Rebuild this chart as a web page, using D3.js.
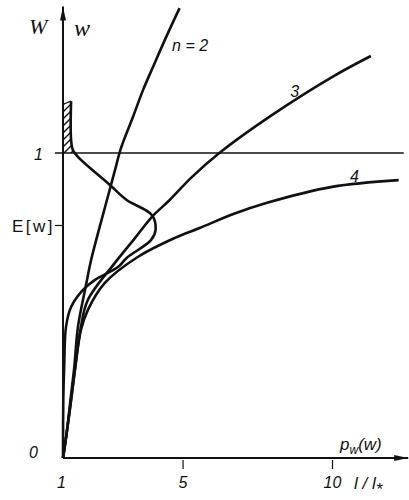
<!DOCTYPE html>
<html>
<head>
<meta charset="utf-8">
<script src="https://cdn.jsdelivr.net/npm/d3@7"></script>
<style>
  body { margin: 0; background: #fff; }
  text { font-family: "Liberation Sans", sans-serif; font-style: italic; fill: #111; }
</style>
</head>
<body>
<svg id="chart" width="409" height="500"></svg>
<script>
// w as a function of l/l* for n = 2, 3, 4
var n2L = [1, 1.12, 1.25, 1.38, 1.5, 1.77, 1.94, 2.47, 2.74, 2.94, 3.34, 3.68, 4.01, 4.45, 4.9];
var n2W = [0, 0.08, 0.19, 0.3, 0.43, 0.567, 0.649, 0.846, 0.944, 1.016, 1.118, 1.207, 1.282, 1.38, 1.475];

var n3L = [1, 1.12, 1.27, 1.4, 1.6, 1.83, 2.73, 3.4, 3.97, 4.57, 5.3, 6.23, 8.0, 10, 11.3];
var n3W = [0, 0.08, 0.19, 0.29, 0.43, 0.518, 0.639, 0.72, 0.79, 0.846, 0.92, 1.0, 1.125, 1.249, 1.318];

var n4L = [1, 1.12, 1.27, 1.4, 1.6, 1.83, 2.4, 3.5, 4.73, 5.57, 6.7, 7.8, 10, 12.23];
var n4W = [0, 0.08, 0.19, 0.29, 0.42, 0.485, 0.574, 0.659, 0.721, 0.754, 0.8, 0.836, 0.889, 0.911];

// density p_w(w), drawn sideways (horizontal = density, vertical = w)
var densP = [1.27, 1.27, 1.33, 1.5, 2.57, 3.13, 3.97, 4.1, 3.95, 3.13, 2.84, 2.07, 1.67, 1.27, 1.1, 1.04, 1.01, 1.0];
var densW = [1.17, 1.043, 1.01, 0.987, 0.895, 0.846, 0.797, 0.75, 0.715, 0.656, 0.626, 0.584, 0.551, 0.495, 0.43, 0.3, 0.19, 0];

var xTicks = [1, 5, 10];
var yTicks = [0, 0.764, 1];
var yTickLabels = ["0", "E[w]", "1"];
var curveLabels = [
  { text: "n = 2", l: 4.65, w: 1.335 },
  { text: "3", l: 8.6, w: 1.185 },
  { text: "4", l: 10.6, w: 0.905 }
];

var xMax = 12.55, wMax = 1.48, hatchTop = 1.16;
var oneLine = [0.73, 12.4];

var svg = d3.select('#chart');
var x = d3.scaleLinear().domain([1, 10]).range([63, 332]);
var y = d3.scaleLinear().domain([0, 1]).range([458, 153]);

var defs = svg.append('defs');
defs.append('marker')
    .attr('id', 'arrow')
    .attr('markerUnits', 'userSpaceOnUse')
    .attr('viewBox', '0 0 14 8')
    .attr('refX', 14).attr('refY', 4)
    .attr('markerWidth', 14).attr('markerHeight', 8)
    .attr('orient', 'auto')
    .append('path').attr('d', 'M0,1 L14,4 L0,7 Z').attr('fill', '#111');

var pat = defs.append('pattern')
    .attr('id', 'hatch')
    .attr('patternUnits', 'userSpaceOnUse')
    .attr('width', 7).attr('height', 7);
pat.append('path')
    .attr('d', 'M-1,1 L1,-1 M0,7 L7,0 M6,8 L8,6')
    .attr('stroke', '#111').attr('stroke-width', 1.4);

defs.append('clipPath').attr('id', 'aboveOne')
  .append('rect')
    .attr('x', 0).attr('y', 0)
    .attr('width', 409).attr('height', y(1));

var lineD = d3.line()
    .x(function (d) { return x(d[0]); })
    .y(function (d) { return y(d[1]); })
    .curve(d3.curveCatmullRom);

// hatched tail of the density above w = 1
var densPts = d3.zip(densP, densW);
svg.append('path')
    .attr('d', lineD(densPts) + 'L' + x(1) + ',' + y(hatchTop) + 'Z')
    .attr('fill', 'url(#hatch)')
    .attr('clip-path', 'url(#aboveOne)');
svg.append('line')
    .attr('x1', x(1)).attr('y1', y(hatchTop))
    .attr('x2', x(densP[0])).attr('y2', y(densW[0]))
    .attr('stroke', '#111').attr('stroke-width', 1.2);

// axes
svg.append('line')
    .attr('x1', x(1)).attr('y1', y(0))
    .attr('x2', x(xMax)).attr('y2', y(0))
    .attr('stroke', '#111').attr('stroke-width', 2)
    .attr('marker-end', 'url(#arrow)');
svg.append('line')
    .attr('x1', x(1)).attr('y1', y(0))
    .attr('x2', x(1)).attr('y2', y(wMax))
    .attr('stroke', '#111').attr('stroke-width', 2)
    .attr('marker-end', 'url(#arrow)');

var xAxis = svg.append('g')
    .attr('transform', 'translate(0,' + y(0) + ')')
    .call(d3.axisBottom(x).tickValues(xTicks).tickSize(11).tickPadding(8).tickSizeOuter(0));
xAxis.select('.domain').remove();
xAxis.selectAll('.tick line')
    .attr('stroke', '#111').attr('stroke-width', 1.2)
    .attr('y1', 2)
    .style('display', function (d) { return d === 1 ? 'none' : null; });
xAxis.selectAll('.tick text')
    .attr('font-size', 16).attr('fill', '#111')
    .attr('font-family', null)
    .attr('dx', function (d) { return d === 1 ? -2 : 0; });

var yAxis = svg.append('g')
    .attr('transform', 'translate(' + x(1) + ',0)')
    .call(d3.axisLeft(y).tickValues(yTicks).tickSize(8).tickPadding(2).tickSizeOuter(0)
      .tickFormat(function (d, i) { return yTickLabels[i]; }));
yAxis.select('.domain').remove();
yAxis.selectAll('.tick line')
    .attr('stroke', '#111').attr('stroke-width', 1.2)
    .style('display', function (d) { return d === 0.764 ? null : 'none'; });
yAxis.selectAll('.tick text')
    .attr('font-family', null)
    .attr('font-size', function (d) { return d === 0.764 ? 17 : 16; })
    .attr('fill', '#111')
    .style('font-style', function (d) { return d === 0.764 ? 'normal' : 'italic'; })
    .style('letter-spacing', function (d) { return d === 0.764 ? '2.5px' : null; })
    .attr('x', function (d) { return d === 0 ? -25 : (d === 1 ? -20 : -8); })
    .attr('dy', function (d) { return d === 0 ? '-0.05em' : '0.4em'; });

// w = 1 level
svg.append('line')
    .attr('x1', x(oneLine[0])).attr('y1', y(1))
    .attr('x2', x(oneLine[1])).attr('y2', y(1))
    .attr('stroke', '#111').attr('stroke-width', 1.6);

// curves
var series = [[n2L, n2W], [n3L, n3W], [n4L, n4W]];
svg.selectAll('path.curve')
    .data(series)
    .enter()
    .append('path')
    .attr('class', 'curve')
    .attr('d', function (s) { return lineD(d3.zip(s[0], s[1])); })
    .attr('fill', 'none')
    .attr('stroke', '#111')
    .attr('stroke-width', 2.6);

svg.append('path')
    .attr('d', lineD(densPts))
    .attr('fill', 'none')
    .attr('stroke', '#111')
    .attr('stroke-width', 2.6);

svg.selectAll('text.clabel')
    .data(curveLabels)
    .enter()
    .append('text')
    .attr('class', 'clabel')
    .attr('x', function (d) { return x(d.l); })
    .attr('y', function (d) { return y(d.w); })
    .attr('font-size', 16)
    .text(function (d) { return d.text; });

// axis titles
svg.append('text').attr('x', 29).attr('y', 34).attr('font-size', 22)
    .style('font-family', '"Liberation Serif", serif').text('W');
svg.append('text').attr('x', 74).attr('y', 36).attr('font-size', 24)
    .style('font-family', '"Liberation Serif", serif').text('w');

var px = svg.append('text').attr('x', 340).attr('y', 450).attr('font-size', 17);
px.append('tspan').text('p');
px.append('tspan').attr('font-size', 12).attr('dy', 4).text('w');
px.append('tspan').attr('dy', -4).text('(w)');

var lx = svg.append('text').attr('x', 354).attr('y', 489).attr('font-size', 17);
lx.append('tspan').text('l / l');
lx.append('tspan').attr('font-size', 17).attr('dy', 6).text('*');
</script>
</body>
</html>
